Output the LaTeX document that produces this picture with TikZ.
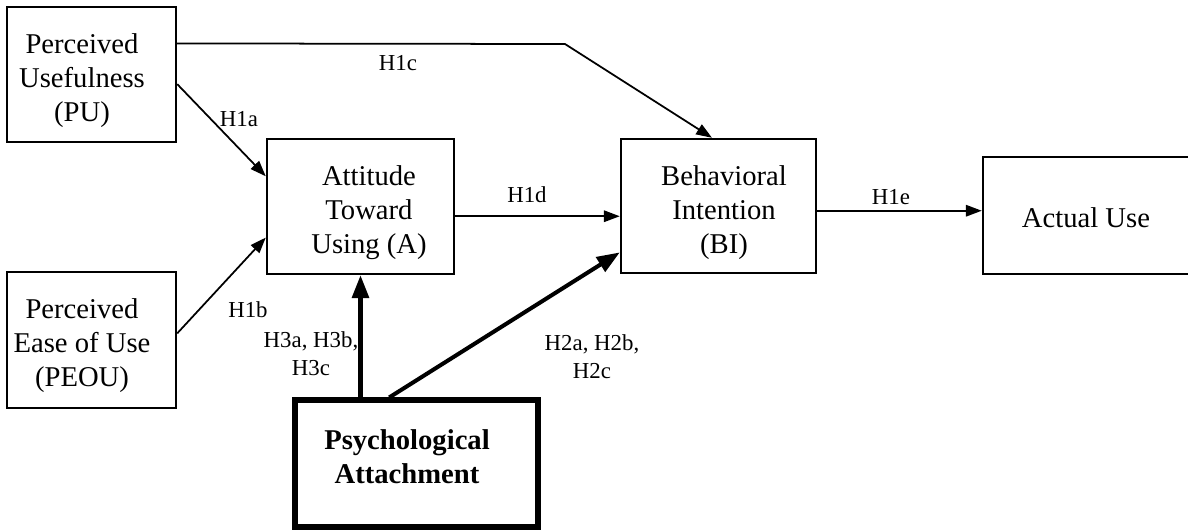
\documentclass[tikz,border=0pt]{standalone}
\usepackage{fontspec}
\setmainfont{Liberation Serif}
\usetikzlibrary{arrows.meta,calc,fit}
\begin{document}
\begin{tikzpicture}[x=0.02cm,y=-0.02cm,
  box/.style={draw,line width=1.4pt,inner sep=0pt,fill=none},
  thickbox/.style={draw,line width=2.9pt,inner sep=0pt},
  txt/.style={align=center,inner sep=0pt,font=\fontsize{16.3}{19.4}\selectfont},
  btxt/.style={align=center,inner sep=0pt,font=\fontsize{16.3}{19.4}\selectfont\bfseries},
  lbl/.style={align=center,inner sep=0pt,font=\fontsize{13}{16}\selectfont},
  conn/.style={line width=1pt,-{Triangle[length=9pt,width=6.5pt]}},
  thickconn/.style={line width=2.3pt,-{Triangle[length=13pt,width=9.5pt]}}]
\useasboundingbox (0,0) rectangle (1188,529);
\begin{scope}
\clip (0,0) rectangle (1188,529);
% boxes
\node[box,fit={(7,7) (176,142)}] (PU) {};
\node[box,fit={(7,272) (176,408)}] (PEOU) {};
\node[box,fit={(267,139) (454,274)}] (A) {};
\node[box,fit={(621,139) (816,273)}] (BI) {};
\node[box,fit={(983,157) (1200,274)}] (AU) {};
\node[thickbox,fit={(295,400) (538,527)}] (PA) {};
\end{scope}
% texts
\node[txt] (PUt) at (82,81) {Perceived\\Usefulness\\(PU)};
\node[txt] (PEOUt) at (82,346) {Perceived\\Ease of Use\\(PEOU)};
\node[txt] (At) at (369,213) {Attitude\\Toward\\Using (A)};
\node[txt] (BIt) at (724,213) {Behavioral\\Intention\\(BI)};
\node[txt] (AUt) at (1086,218) {Actual Use};
\node[btxt] (PAt) at (407,457) {Psychological\\Attachment};
% connectors
\coordinate (bend) at (565,44);
\coordinate (aue) at ($(AU.north west)!0.46!(AU.south west)$);
\coordinate (bid) at ($(BI.north west)!0.575!(BI.south west)$);
\draw[conn] ($(PU.north east)!0.274!(PU.south east)$) -- (bend) -- ($(BI.north west)!0.467!(BI.north east)$);
\draw[conn] ($(PU.north east)!0.57!(PU.south east)$) -- ($(A.north west)!0.28!(A.south west)$);
\draw[conn] ($(PEOU.north east)!0.452!(PEOU.south east)$) -- ($(A.north west)!0.726!(A.south west)$);
\draw[conn] (A.east |- bid) -- (bid);
\draw[conn] (BI.east |- aue) -- (aue);
\draw[thickconn] (PA.north -| A.south) -- (A.south);
\draw[thickconn] ($(PA.north west)!0.39!(PA.north east)$) -- ($(BI.north west)!0.84!(BI.south west)$);
% labels
\node[lbl] (l1c) at (398,63) {H1c};
\node[lbl] (l1a) at (239,119) {H1a};
\node[lbl] (l1d) at (527,195) {H1d};
\node[lbl] (l1e) at (891,197) {H1e};
\node[lbl] (l1b) at (248,310) {H1b};
\node[lbl] (l3) at (311,354) {H3a, H3b,\\H3c};
\node[lbl] (l2) at (592,357) {H2a, H2b,\\H2c};
\end{tikzpicture}
\end{document}
